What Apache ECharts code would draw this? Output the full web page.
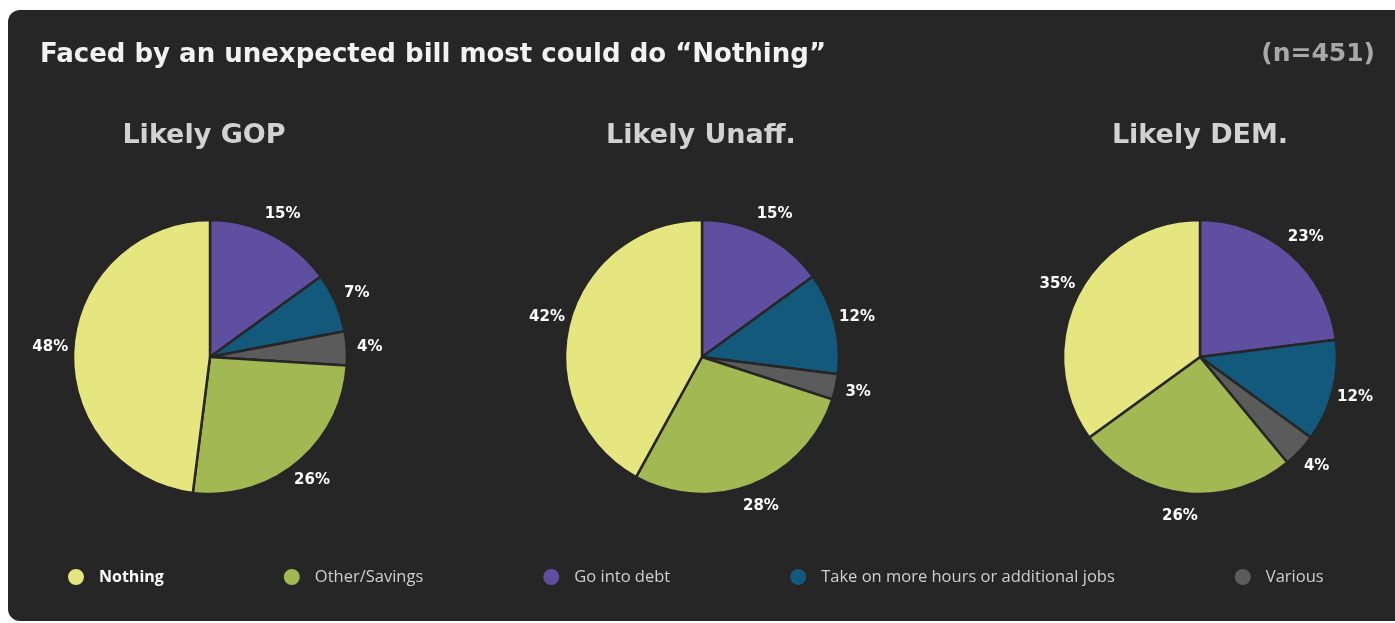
<!DOCTYPE html>
<html>
<head>
<meta charset="utf-8">
<script src="https://cdn.jsdelivr.net/npm/echarts@6/dist/echarts.min.js"></script>
<style>
  html, body { margin: 0; padding: 0; background: #ffffff; }
  #chart { width: 1395px; height: 623px; }
</style>
</head>
<body>
<div id="chart"></div>
<script>
// Survey groups and answer shares (percent)
const groups = ['Likely GOP', 'Likely Unaff.', 'Likely DEM.'];
const categories = ['Nothing', 'Other/Savings', 'Go into debt', 'Take on more hours or additional jobs', 'Various'];
const nothing = [48, 42, 35];
const otherSavings = [26, 28, 26];
const goIntoDebt = [15, 15, 23];
const moreHours = [7, 12, 12];
const various = [4, 3, 4];

const colors = {
  'Nothing': '#e6e681',
  'Other/Savings': '#a1b853',
  'Go into debt': '#5f4fa0',
  'Take on more hours or additional jobs': '#12597b',
  'Various': '#5b5b5b'
};

const HEAD_FONT = '"DejaVu Sans", sans-serif';
const BODY_FONT = '"Open Sans", sans-serif';
const BG = '#262626';
const centersX = [210, 702, 1200];
const centerY = 357;
const R = 137;

// slices run clockwise from 12 o'clock in this order
function sliceData(i) {
  return [
    { name: 'Go into debt', value: goIntoDebt[i] },
    { name: 'Take on more hours or additional jobs', value: moreHours[i] },
    { name: 'Various', value: various[i] },
    { name: 'Other/Savings', value: otherSavings[i] },
    { name: 'Nothing', value: nothing[i] }
  ];
}

const series = [];
groups.forEach((g, i) => {
  // visible pie
  series.push({
    type: 'pie',
    name: g,
    center: [centersX[i], centerY],
    radius: [0, R],
    startAngle: 90,
    clockwise: true,
    silent: true,
    animation: false,
    label: { show: false },
    labelLine: { show: false },
    itemStyle: {
      color: p => colors[p.name],
      borderColor: BG,
      borderWidth: 2.5
    },
    emphasis: { disabled: true },
    data: sliceData(i)
  });
  // invisible ring that carries the percentage labels just outside the pie
  series.push({
    type: 'pie',
    name: g + ' labels',
    center: [centersX[i], centerY],
    radius: [0, 2 * R + 40],
    startAngle: 90,
    clockwise: true,
    silent: true,
    animation: false,
    z: 5,
    label: {
      show: true,
      position: 'inside',
      formatter: p => p.value + '%',
      color: '#ffffff',
      fontFamily: HEAD_FONT,
      fontWeight: 'bold',
      fontSize: 15
    },
    labelLine: { show: false },
    itemStyle: { color: 'rgba(0,0,0,0)', borderWidth: 0 },
    emphasis: { disabled: true },
    data: sliceData(i)
  });
});

const titles = [
  {
    text: 'Faced by an unexpected bill most could do \u201cNothing\u201d',
    left: 35, top: 37,
    textStyle: { color: '#f2f2f2', fontFamily: HEAD_FONT, fontWeight: 'bold', fontSize: 26 }
  },
  {
    text: '(n=451)',
    right: 15, top: 37,
    textStyle: { color: '#a8a8a8', fontFamily: HEAD_FONT, fontWeight: 'bold', fontSize: 25 }
  }
];
groups.forEach((g, i) => {
  titles.push({
    text: g,
    left: [199, 696, 1195][i],
    top: 117,
    textAlign: 'center',
    textStyle: { color: '#d2d2d2', fontFamily: HEAD_FONT, fontWeight: 'bold', fontSize: 27 }
  });
});

const chart = echarts.init(document.getElementById('chart'), null, { renderer: 'canvas' });
chart.setOption({
  backgroundColor: 'transparent',
  animation: false,
  graphic: [{
    type: 'rect',
    z: -10,
    silent: true,
    shape: { x: 8, y: 10, width: 1400, height: 611, r: 12 },
    style: { fill: BG }
  }],
  title: titles,
  legend: {
    left: 61,
    top: 562,
    itemWidth: 18,
    itemHeight: 18,
    itemGap: 118,
    icon: 'circle',
    selectedMode: false,
    textStyle: { color: '#cfcfcf', fontFamily: BODY_FONT, fontSize: 16.5, padding: [0, 0, 0, 9] },
    data: categories.map(c => c === 'Nothing'
      ? { name: c, itemStyle: { color: colors[c] }, textStyle: { color: '#ffffff', fontWeight: 'bold', fontSize: 16 } }
      : { name: c, itemStyle: { color: colors[c] } })
  },
  series: series
});
</script>
</body>
</html>
